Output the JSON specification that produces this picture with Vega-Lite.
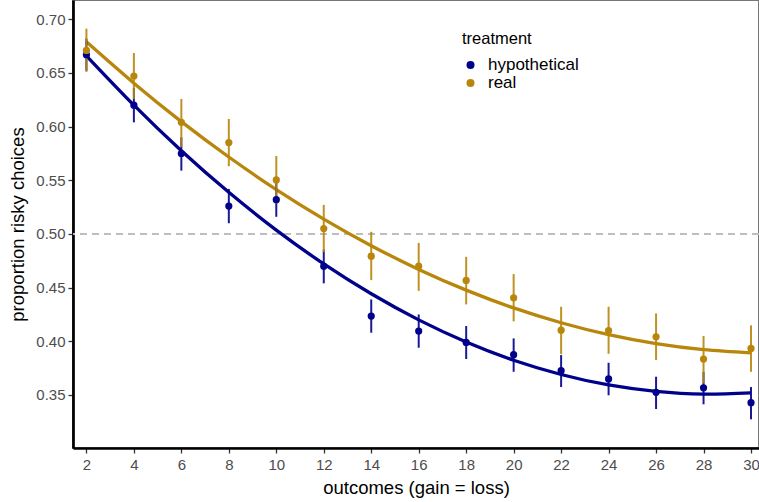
{
  "$schema": "https://vega.github.io/schema/vega-lite/v6.json",
  "width": 686,
  "height": 448,
  "autosize": {"type": "none"},
  "padding": {"left": 73, "top": 0, "right": 0, "bottom": 54},
  "background": "white",
  "config": {
    "font": "Liberation Sans",
    "view": {"stroke": "#777777", "strokeWidth": 2},
    "axis": {
      "grid": false,
      "domainColor": "#000000",
      "domainWidth": 2.7,
      "tickColor": "#333333",
      "tickWidth": 1.3,
      "tickSize": 5,
      "labelFont": "Liberation Sans",
      "labelFontSize": 15,
      "labelColor": "#4D4D4D",
      "titleFont": "Liberation Sans",
      "titleFontSize": 18.5,
      "titleFontWeight": "normal",
      "titleColor": "#000000"
    }
  },
  "data": {
    "values": [
      {"treatment": "hypothetical", "outcome": 2, "proportion": 0.667, "lower": 0.652, "upper": 0.682, "fitted": 0.666},
      {"treatment": "hypothetical", "outcome": 4, "proportion": 0.620, "lower": 0.604, "upper": 0.636, "fitted": 0.620},
      {"treatment": "hypothetical", "outcome": 6, "proportion": 0.575, "lower": 0.559, "upper": 0.590, "fitted": 0.5776},
      {"treatment": "hypothetical", "outcome": 8, "proportion": 0.526, "lower": 0.510, "upper": 0.542, "fitted": 0.5388},
      {"treatment": "hypothetical", "outcome": 10, "proportion": 0.532, "lower": 0.516, "upper": 0.5475, "fitted": 0.5036},
      {"treatment": "hypothetical", "outcome": 12, "proportion": 0.470, "lower": 0.454, "upper": 0.4855, "fitted": 0.4721},
      {"treatment": "hypothetical", "outcome": 14, "proportion": 0.4235, "lower": 0.408, "upper": 0.439, "fitted": 0.4443},
      {"treatment": "hypothetical", "outcome": 16, "proportion": 0.4095, "lower": 0.394, "upper": 0.425, "fitted": 0.420},
      {"treatment": "hypothetical", "outcome": 18, "proportion": 0.399, "lower": 0.3835, "upper": 0.4142, "fitted": 0.3994},
      {"treatment": "hypothetical", "outcome": 20, "proportion": 0.3875, "lower": 0.3716, "upper": 0.4027, "fitted": 0.3824},
      {"treatment": "hypothetical", "outcome": 22, "proportion": 0.3726, "lower": 0.3574, "upper": 0.3872, "fitted": 0.3691},
      {"treatment": "hypothetical", "outcome": 24, "proportion": 0.365, "lower": 0.3497, "upper": 0.380, "fitted": 0.3593},
      {"treatment": "hypothetical", "outcome": 26, "proportion": 0.3525, "lower": 0.3369, "upper": 0.367, "fitted": 0.3533},
      {"treatment": "hypothetical", "outcome": 28, "proportion": 0.3567, "lower": 0.3413, "upper": 0.3716, "fitted": 0.3508},
      {"treatment": "hypothetical", "outcome": 30, "proportion": 0.3428, "lower": 0.3273, "upper": 0.3574, "fitted": 0.352},
      {"treatment": "real", "outcome": 2, "proportion": 0.671, "lower": 0.651, "upper": 0.6913, "fitted": 0.679},
      {"treatment": "real", "outcome": 4, "proportion": 0.6472, "lower": 0.6258, "upper": 0.6686, "fitted": 0.6405},
      {"treatment": "real", "outcome": 6, "proportion": 0.6041, "lower": 0.5811, "upper": 0.6258, "fitted": 0.6047},
      {"treatment": "real", "outcome": 8, "proportion": 0.5852, "lower": 0.5631, "upper": 0.6072, "fitted": 0.5717},
      {"treatment": "real", "outcome": 10, "proportion": 0.5504, "lower": 0.5284, "upper": 0.5727, "fitted": 0.5414},
      {"treatment": "real", "outcome": 12, "proportion": 0.5051, "lower": 0.4831, "upper": 0.5271, "fitted": 0.5139},
      {"treatment": "real", "outcome": 14, "proportion": 0.4793, "lower": 0.457, "upper": 0.502, "fitted": 0.4891},
      {"treatment": "real", "outcome": 16, "proportion": 0.470, "lower": 0.447, "upper": 0.4917, "fitted": 0.467},
      {"treatment": "real", "outcome": 18, "proportion": 0.4567, "lower": 0.4344, "upper": 0.4787, "fitted": 0.4477},
      {"treatment": "real", "outcome": 20, "proportion": 0.4406, "lower": 0.4186, "upper": 0.4626, "fitted": 0.4311},
      {"treatment": "real", "outcome": 22, "proportion": 0.4104, "lower": 0.3881, "upper": 0.4322, "fitted": 0.4173},
      {"treatment": "real", "outcome": 24, "proportion": 0.410, "lower": 0.3884, "upper": 0.4322, "fitted": 0.4062},
      {"treatment": "real", "outcome": 26, "proportion": 0.4042, "lower": 0.3825, "upper": 0.426, "fitted": 0.3978},
      {"treatment": "real", "outcome": 28, "proportion": 0.3835, "lower": 0.3608, "upper": 0.4049, "fitted": 0.3922},
      {"treatment": "real", "outcome": 30, "proportion": 0.3934, "lower": 0.3716, "upper": 0.4149, "fitted": 0.3893}
    ]
  },
  "layer": [
    {
      "mark": {"type": "rule", "color": "#BEBEBE", "strokeWidth": 1.5, "strokeDash": [7, 5]},
      "encoding": {"y": {"datum": 0.5, "type": "quantitative"}}
    },
    {
      "encoding": {
        "x": {
          "field": "outcome",
          "type": "quantitative",
          "title": "outcomes (gain = loss)",
          "scale": {"domain": [1.435, 30.337], "nice": false, "zero": false},
          "axis": {"values": [2, 4, 6, 8, 10, 12, 14, 16, 18, 20, 22, 24, 26, 28, 30], "labelPadding": 4, "titlePadding": 6, "labelFlush": false, "labelOverlap": false}
        },
        "color": {
          "field": "treatment",
          "type": "nominal",
          "scale": {"domain": ["hypothetical", "real"], "range": ["#00008B", "#B8860B"]},
          "legend": {
            "title": "treatment",
            "orient": "none",
            "legendX": 389,
            "legendY": 31,
            "titleFont": "Liberation Sans",
            "titleFontSize": 16.5,
            "titleFontWeight": "normal",
            "titleColor": "#000000",
            "titlePadding": 9,
            "labelFont": "Liberation Sans",
            "labelFontSize": 17,
            "labelColor": "#000000",
            "labelOffset": 9,
            "rowPadding": 0,
            "symbolType": "circle",
            "symbolSize": 64,
            "symbolOpacity": 1,
            "symbolStrokeWidth": 0
          }
        }
      },
      "layer": [
        {
          "mark": {"type": "line", "strokeWidth": 3.3, "interpolate": "natural"},
          "encoding": {"y": {"field": "fitted", "type": "quantitative"}}
        },
        {
          "mark": {"type": "rule", "strokeWidth": 2, "opacity": 0.9},
          "encoding": {
            "y": {"field": "lower", "type": "quantitative"},
            "y2": {"field": "upper"}
          }
        },
        {
          "mark": {"type": "point", "filled": true, "size": 52, "opacity": 1},
          "encoding": {
            "y": {
              "field": "proportion",
              "type": "quantitative",
              "title": "proportion risky choices",
              "scale": {"domain": [0.3006, 0.718], "nice": false, "zero": false},
              "axis": {"values": [0.35, 0.4, 0.45, 0.5, 0.55, 0.6, 0.65, 0.7], "format": ".2f", "labelPadding": 3, "titlePadding": 8}
            }
          }
        }
      ]
    }
  ]
}
